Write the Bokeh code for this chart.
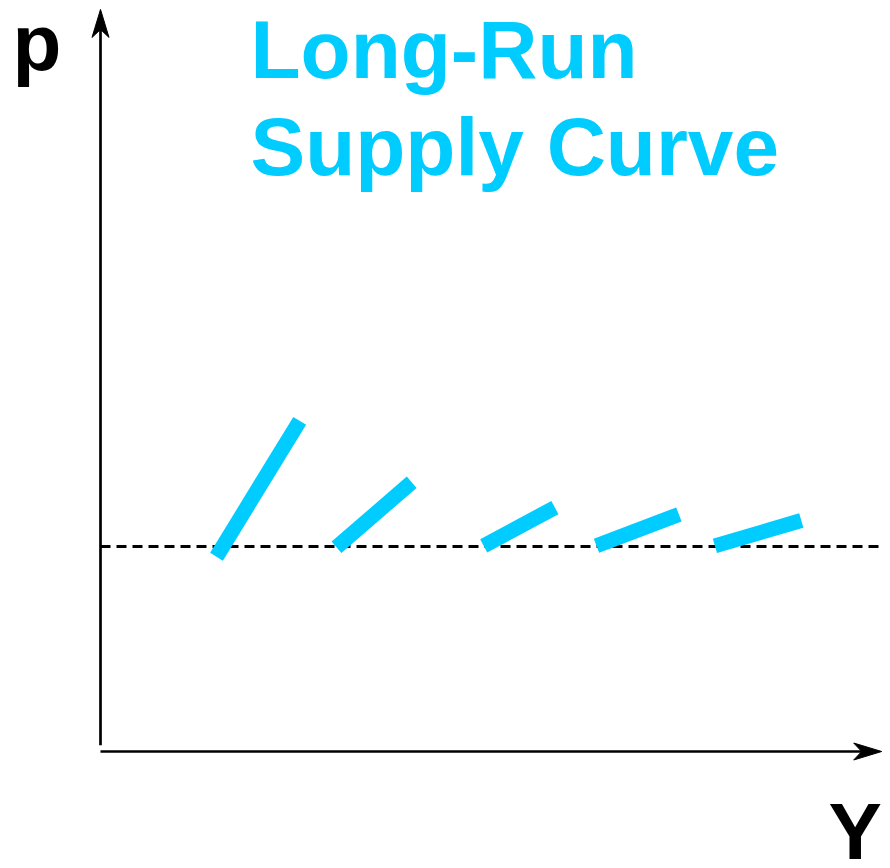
from bokeh.plotting import figure
from bokeh.models import Range1d
from bokeh.core.properties import value
from bokeh.embed import file_html
from bokeh.resources import INLINE

# ---- data (economic units: Y quantity, p price) ----
seg_x0 = [1.45, 2.95, 4.79, 6.20, 7.68]
seg_y0 = [2.85, 2.99, 3.01, 3.01, 3.01]
seg_x1 = [2.49, 3.89, 5.68, 7.23, 8.76]
seg_y1 = [4.84, 3.94, 3.57, 3.47, 3.38]
p_star = 3.0
x_axis_max = 9.765
y_axis_max = 10.86
title_lines = ["Long-Run", "Supply Curve"]
x_label = "Y"
y_label = "p"

CYAN = "#00CCFF"
FONT = value("Liberation Sans")

# pixels per data unit
SX = 80.0
SY = 68.33

p = figure(width=882, height=860, output_backend="svg", toolbar_location=None,
           x_range=Range1d(-1.25, 9.775), y_range=Range1d(-1.595, 10.991),
           x_axis_location=None, y_axis_location=None, min_border=0,
           outline_line_color=None, background_fill_color="white",
           border_fill_color="white")
p.grid.visible = False

# dashed long-run price line
p.segment(x0=[0], y0=[p_star], x1=[9.775], y1=[p_star], line_color="black",
          line_width=2.8, line_dash="10 6")

# supply segments
p.segment(x0=seg_x0, y0=seg_y0, x1=seg_x1, y1=seg_y1, line_color=CYAN,
          line_width=15, line_cap="butt")

# axes
head_len, notch, half_w = 28, 20, 8.5
p.segment(x0=[0], y0=[0.09], x1=[0], y1=[y_axis_max - notch / SY],
          line_color="black", line_width=2.7)
p.segment(x0=[0], y0=[0], x1=[x_axis_max - notch / SX], y1=[0],
          line_color="black", line_width=2.7)

# arrowheads
up_x = [0, half_w / SX, 0, -half_w / SX]
up_y = [y_axis_max, y_axis_max - head_len / SY, y_axis_max - notch / SY,
        y_axis_max - head_len / SY]
p.patch(up_x, up_y, fill_color="black", line_color="black", line_width=1)
xr = x_axis_max
rt_x = [xr, xr - head_len / SX, xr - notch / SX, xr - head_len / SX]
rt_y = [0, half_w / SY, 0, -half_w / SY]
p.patch(rt_x, rt_y, fill_color="black", line_color="black", line_width=1)

# labels
p.text(x=[-1.1], y=[10.376], text=[y_label], text_font=FONT,
       text_font_style="bold", text_font_size="80px", text_color="black",
       text_baseline="alphabetic")
p.text(x=[9.1], y=[-1.17], text=[x_label], text_font=FONT,
       text_font_style="bold", text_font_size="80px", text_color="black",
       text_baseline="alphabetic")
p.text(x=[1.875, 1.875], y=[10.274, 8.854], text=title_lines, text_font=FONT,
       text_font_style="bold", text_font_size="82px", text_color=CYAN,
       text_baseline="alphabetic")

open("out.html", "w").write(file_html(p, INLINE))
